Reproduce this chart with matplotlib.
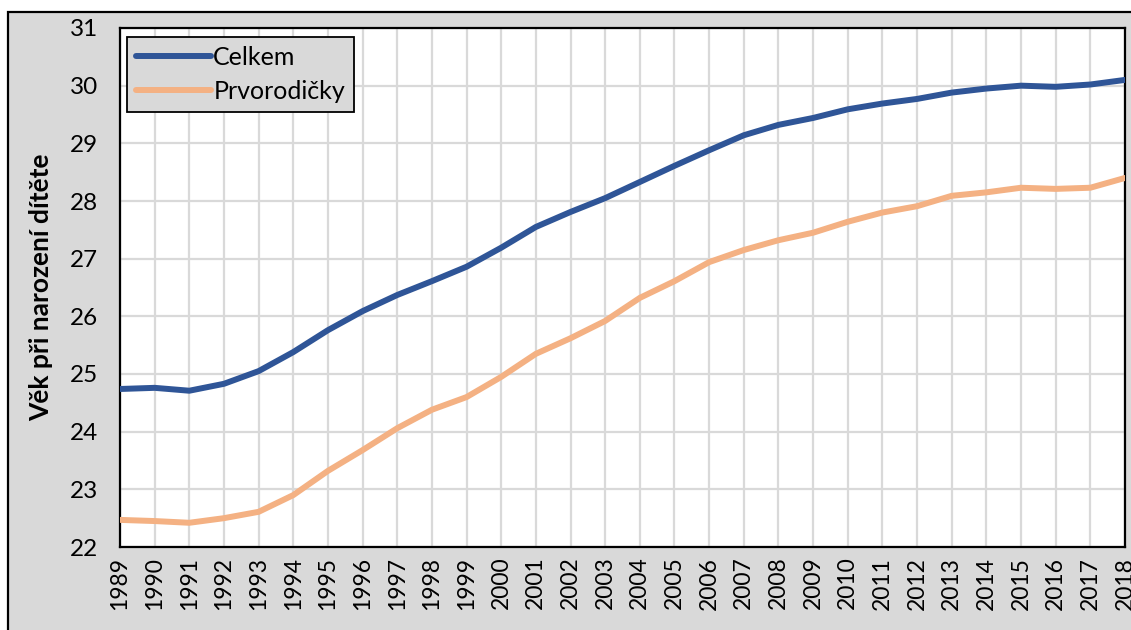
import matplotlib.pyplot as plt
from matplotlib.patches import Rectangle

years = list(range(1989, 2019))
celkem = [24.74, 24.76, 24.71, 24.83, 25.05, 25.38, 25.76, 26.09, 26.37, 26.61,
          26.86, 27.19, 27.55, 27.81, 28.05, 28.33, 28.61, 28.88, 29.14, 29.32,
          29.44, 29.59, 29.69, 29.77, 29.88, 29.95, 30.00, 29.98, 30.02, 30.10]
prvorodicky = [22.47, 22.45, 22.42, 22.50, 22.61, 22.90, 23.32, 23.68, 24.06, 24.38,
               24.60, 24.95, 25.35, 25.62, 25.92, 26.32, 26.61, 26.94, 27.15, 27.32,
               27.45, 27.64, 27.80, 27.91, 28.09, 28.15, 28.23, 28.21, 28.23, 28.40]

plt.rcParams['font.family'] = ['Lato', 'DejaVu Sans']

fig = plt.figure(figsize=(11.31, 6.30), dpi=100)
fig.patch.set_facecolor('white')
# grey chart frame (extends past the right/bottom edge like the source)
fig.add_artist(Rectangle((8 / 1131, -0.05), 1.2, 1 - 12 / 630 + 0.05,
                         transform=fig.transFigure, facecolor='#d9d9d9',
                         edgecolor='black', linewidth=1.6, zorder=0))

ax = fig.add_axes([120 / 1131, 1 - 547 / 630, 1005 / 1131, 519 / 630])
ax.set_facecolor('white')

x = list(range(len(years)))
ax.plot(x, celkem, color='#2f5597', lw=4.3, label='Celkem', solid_capstyle='round', zorder=3)
ax.plot(x, prvorodicky, color='#f4b183', lw=4.3, label='Prvorodičky', solid_capstyle='round', zorder=3)

ax.set_xlim(0, len(years) - 1)
ax.set_ylim(22, 31)
ax.set_yticks(range(22, 32))
ax.set_xticks(x)
ax.set_xticklabels([str(y) for y in years], rotation=90, fontsize=16.5)
ax.tick_params(axis='y', labelsize=17.5, length=0, pad=16)
ax.tick_params(axis='x', length=0, pad=7)
ax.grid(True, color='#d9d9d9', lw=1.6, zorder=1)
for s in ax.spines.values():
    s.set_color('black')
    s.set_linewidth(1.6)

ax.set_ylabel('Věk při narození dítěte', fontsize=19, fontweight='bold', labelpad=12)

leg = ax.legend(loc='upper left', bbox_to_anchor=(0.007, 0.983), borderaxespad=0,
                fontsize=18, frameon=True, fancybox=False, facecolor='#d9d9d9',
                edgecolor='black', handlelength=3.0, handletextpad=0.1,
                borderpad=0.35, labelspacing=0.45)
leg.get_frame().set_linewidth(1.3)
leg.get_frame().set_alpha(1)

fig.savefig('out.png', dpi=100)
